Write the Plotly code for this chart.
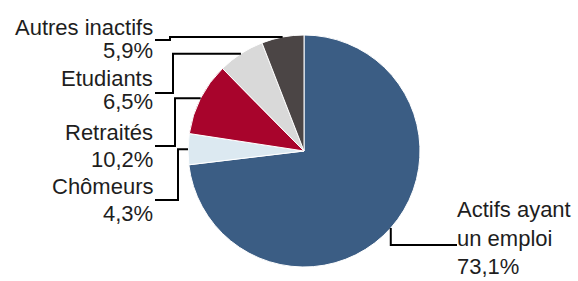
import math
import plotly.graph_objects as go

# ---- data ----
categories = ["Actifs ayant un emploi", "Chômeurs", "Retraités", "Etudiants", "Autres inactifs"]
values = [73.1, 4.3, 10.2, 6.5, 5.9]
pct_labels = ["73,1%", "4,3%", "10,2%", "6,5%", "5,9%"]
name_lines = [["Actifs ayant", "un emploi"], ["Chômeurs"], ["Retraités"], ["Etudiants"], ["Autres inactifs"]]
colors = ["#3b5d84", "#dce9f1", "#a8042c", "#d9d9d9", "#4b4545"]

# ---- layout geometry (pixels) ----
W, H = 578, 281
CX, CY, R = 304, 151, 116

def px(x):
    return x / W

def py(y):
    return 1 - y / H

fig = go.Figure(go.Pie(
    labels=categories, values=values, sort=False, direction="clockwise", rotation=0,
    marker=dict(colors=colors, line=dict(color="white", width=1)),
    textinfo="none", hoverinfo="label+percent", showlegend=False,
    domain=dict(x=[px(CX - R), px(CX + R)], y=[py(CY + R), py(CY - R)]),
))

# mid-angle edge points computed from the data
total = sum(values)
edge = []
acc = 0
for v in values:
    mid = (acc + v / 2) / total * 2 * math.pi
    acc += v
    edge.append((CX + R * math.sin(mid), CY - R * math.cos(mid)))

font = dict(family="Liberation Sans, Arial, sans-serif", size=22, color="#1e1e1e")
shapes = []
annotations = []

# left-side labels: (index, name line y, pct line y, leader y, elbow x)
left_specs = [
    (4, 27, 51, 40, 170),
    (3, 78, 102, 93, 173),
    (2, 132, 159, 146, 175),
    (1, 186, 213, 200, 178),
]
TX = 155
for i, y1, y2, ly, ex in left_specs:
    annotations.append(dict(x=px(TX), y=py(y1), xref="paper", yref="paper", text=name_lines[i][0],
                            showarrow=False, xanchor="right", yanchor="middle", font=font))
    annotations.append(dict(x=px(TX), y=py(y2), xref="paper", yref="paper", text=pct_labels[i],
                            showarrow=False, xanchor="right", yanchor="middle", font=font))
    exx, eyy = edge[i]
    path = f"M {px(TX)},{py(ly)} L {px(ex)},{py(ly)} L {px(ex)},{py(eyy)} L {px(exx)},{py(eyy)}"
    shapes.append(dict(type="path", xref="paper", yref="paper", path=path,
                       line=dict(color="black", width=2)))

# right-side label (Actifs) as one multi-line text block
RX = 455
annotations.append(dict(x=px(RX), y=0, xref="paper", yref="paper",
                        text="<br>".join(name_lines[0] + [pct_labels[0]]),
                        showarrow=False, xanchor="left", yanchor="bottom", align="left", font=font))
exx, eyy = edge[0]
path = f"M {px(exx)},{py(eyy)} L {px(exx)},{py(245)} L {px(RX + 2)},{py(245)}"
shapes.append(dict(type="path", xref="paper", yref="paper", path=path,
                   line=dict(color="black", width=2)))

fig.update_layout(
    width=W, height=H, margin=dict(l=0, r=0, t=0, b=0),
    paper_bgcolor="white", plot_bgcolor="white",
    shapes=shapes, annotations=annotations,
)
fig.write_html("out.html", config={"displayModeBar": False},
               post_script="document.body.style.margin='0px';document.body.style.overflow='hidden';")
